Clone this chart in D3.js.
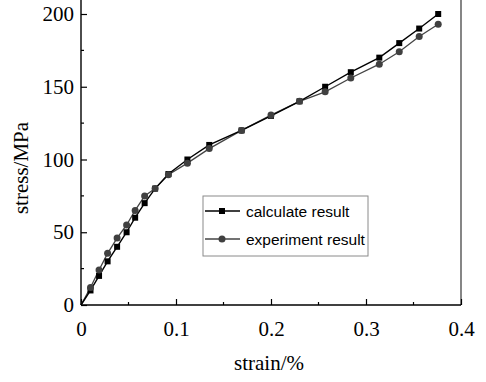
<!DOCTYPE html>
<html>
<head>
<meta charset="utf-8">
<script src="https://cdn.jsdelivr.net/npm/d3@7"></script>
<style>
  html, body { margin: 0; padding: 0; background: #fff; }
  svg { display: block; }
  .serif { font-family: "Liberation Serif", "Times New Roman", Times, "DejaVu Serif", serif; }
  .sans { font-family: "Liberation Sans", Arial, Helvetica, sans-serif; }
</style>
</head>
<body>
<div id="chart"></div>
<script>
// strain (%) and stress (MPa)
const calcStrain = [0, 0.010, 0.019, 0.028, 0.038, 0.048, 0.057, 0.067, 0.078, 0.092, 0.112, 0.135, 0.169, 0.200, 0.230, 0.257, 0.284, 0.314, 0.335, 0.356, 0.376];
const calcStress = [0, 10, 20, 30, 40, 50, 60, 70, 80, 90, 100, 110, 120, 130, 140, 150, 160, 170, 180, 190, 200];
const expStrain = [0, 0.010, 0.019, 0.028, 0.038, 0.048, 0.057, 0.067, 0.078, 0.092, 0.112, 0.135, 0.169, 0.200, 0.230, 0.257, 0.284, 0.314, 0.335, 0.356, 0.376];
const expStress = [0, 12, 24, 35.5, 46, 55, 65, 75, 80, 89.5, 97.5, 107.5, 120, 130.5, 140, 146.5, 156, 165.5, 174, 184.5, 193];
const xTicks = [0, 0.1, 0.2, 0.3, 0.4];
const yTicks = [0, 50, 100, 150, 200];
const seriesNames = ['calculate result', 'experiment result'];

const W = 486, H = 382;
const margin = { top: 14, right: 25, bottom: 77, left: 81 };
const width = W - margin.left - margin.right;
const height = H - margin.top - margin.bottom;

const svg = d3.select('#chart').append('svg')
  .attr('width', W)
  .attr('height', H);

const g = svg.append('g')
  .attr('transform', `translate(${margin.left},${margin.top})`);

const x = d3.scaleLinear().domain([0, 0.4]).range([0, width]);
const y = d3.scaleLinear().domain([0, 200]).range([height, 0]);

// right frame line (top is cut off in the figure)
g.append('line')
  .attr('x1', width).attr('x2', width)
  .attr('y1', -margin.top).attr('y2', height)
  .attr('stroke', '#444').attr('stroke-width', 1.3);

// minor ticks
const xMinor = d3.range(0.05, 0.4, 0.1);
const yMinor = d3.range(25, 200, 50);

g.selectAll('.xminor').data(xMinor).enter().append('line')
  .attr('x1', d => x(d)).attr('x2', d => x(d))
  .attr('y1', height).attr('y2', height - 3)
  .attr('stroke', '#000').attr('stroke-width', 1.2);

g.selectAll('.yminor').data(yMinor).enter().append('line')
  .attr('x1', 0).attr('x2', 3)
  .attr('y1', d => y(d)).attr('y2', d => y(d))
  .attr('stroke', '#000').attr('stroke-width', 1.2);

// axes with inward ticks
const xAxis = g.append('g')
  .attr('transform', `translate(0,${height})`)
  .call(d3.axisBottom(x).tickValues(xTicks).tickSize(-6).tickPadding(16).tickFormat(d => d === 0 ? '0' : d3.format('.1f')(d)));

const yAxis = g.append('g')
  .call(d3.axisLeft(y).tickValues(yTicks).tickSize(-6).tickPadding(7));

[xAxis, yAxis].forEach(ax => {
  ax.attr('font-family', null).attr('font-size', null);
  ax.select('.domain').attr('stroke', '#000').attr('stroke-width', 1.4);
  ax.selectAll('.tick line').attr('stroke', '#000').attr('stroke-width', 1.2);
  ax.selectAll('.tick text')
    .attr('class', 'serif')
    .attr('fill', '#000')
    .style('font-size', '21px');
});
xAxis.select('.domain').attr('d', `M0,0H${width}`);
yAxis.select('.domain').attr('d', `M0,${height}V${-margin.top}`);

// axis titles
svg.append('text')
  .attr('class', 'serif')
  .attr('x', 269).attr('y', 370)
  .attr('text-anchor', 'middle')
  .style('font-size', '21px')
  .text('strain/%');

svg.append('text')
  .attr('class', 'serif')
  .attr('transform', 'translate(28,168) rotate(-90)')
  .attr('text-anchor', 'middle')
  .style('font-size', '21px')
  .text('stress/MPa');

// series
const calc = calcStrain.map((s, i) => ({ x: s, y: calcStress[i] }));
const expt = expStrain.map((s, i) => ({ x: s, y: expStress[i] }));

const line = d3.line().x(d => x(d.x)).y(d => y(d.y));

g.append('path').datum(expt)
  .attr('d', line).attr('fill', 'none')
  .attr('stroke', '#444').attr('stroke-width', 1.3);

g.append('path').datum(calc)
  .attr('d', line).attr('fill', 'none')
  .attr('stroke', '#000').attr('stroke-width', 1.4);

g.selectAll('.sq').data(calc.slice(1)).enter().append('rect')
  .attr('x', d => x(d.x) - 3).attr('y', d => y(d.y) - 3)
  .attr('width', 6).attr('height', 6)
  .attr('fill', '#000');

g.selectAll('.dot').data(expt.slice(1)).enter().append('circle')
  .attr('cx', d => x(d.x)).attr('cy', d => y(d.y))
  .attr('r', 3.5)
  .attr('fill', '#404040');

// legend
const lg = svg.append('g').attr('transform', 'translate(203,196)');
lg.append('rect')
  .attr('width', 165).attr('height', 60)
  .attr('fill', '#fff').attr('stroke', '#8a8a8a').attr('stroke-width', 1);

seriesNames.forEach((name, i) => {
  const yy = 15 + i * 28;
  lg.append('line')
    .attr('x1', 2).attr('x2', 37).attr('y1', yy).attr('y2', yy)
    .attr('stroke', i === 0 ? '#000' : '#444').attr('stroke-width', 1.4);
  if (i === 0) {
    lg.append('rect').attr('x', 16).attr('y', yy - 3).attr('width', 6).attr('height', 6).attr('fill', '#000');
  } else {
    lg.append('circle').attr('cx', 19).attr('cy', yy).attr('r', 3.5).attr('fill', '#404040');
  }
  lg.append('text')
    .attr('class', 'sans')
    .attr('x', 43).attr('y', yy + 5.5)
    .style('font-size', '15.5px')
    .attr('fill', '#000')
    .text(name);
});
</script>
</body>
</html>
